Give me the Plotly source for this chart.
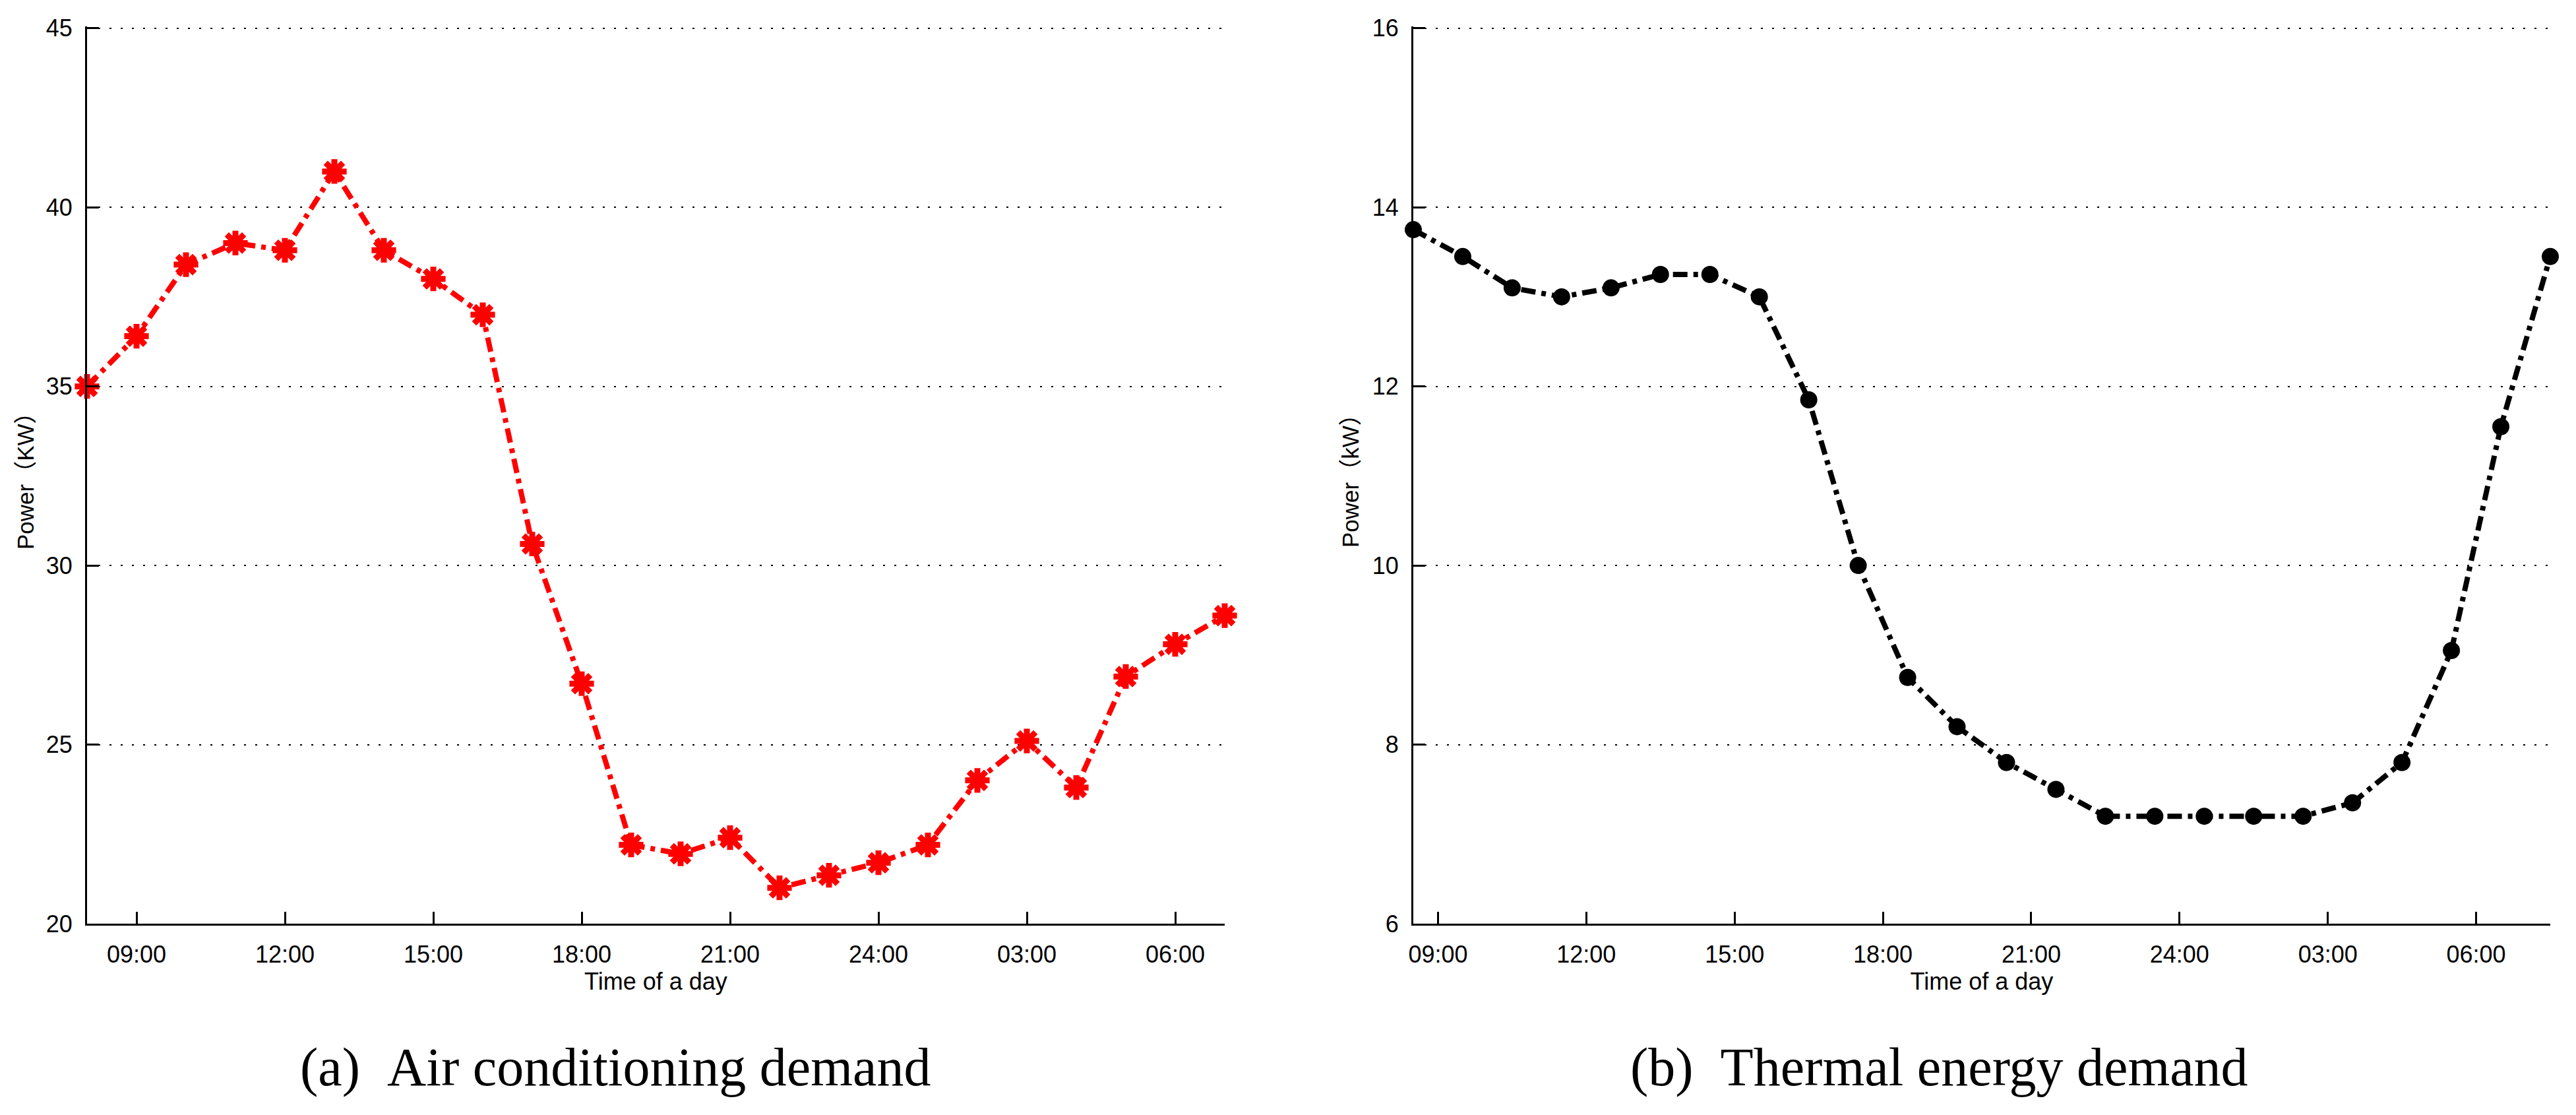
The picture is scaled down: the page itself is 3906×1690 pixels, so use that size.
import plotly.graph_objects as go

# hourly air conditioning load, 08:00 -> 07:00 next day (x in hours, 24 = midnight)
ac_hours = list(range(8, 32))
ac_power = [35.0, 36.4, 38.4, 39.0, 38.8, 41.0, 38.8, 38.0, 37.0, 30.6, 26.7, 22.2,
            21.95, 22.4, 21.0, 21.35, 21.7, 22.2, 24.0, 25.1, 23.8, 26.9, 27.8, 28.6]

# thermal load, sampled on the half hour
th_hours = [h + 0.5 for h in range(8, 32)]
th_power = [13.75, 13.45, 13.1, 13.0, 13.1, 13.25, 13.25, 13.0, 11.85, 10.0, 8.75, 8.2,
            7.8, 7.5, 7.2, 7.2, 7.2, 7.2, 7.2, 7.35, 7.8, 9.05, 11.55, 13.45]

tick_hours = [9, 12, 15, 18, 21, 24, 27, 30]
tick_text = ["09:00", "12:00", "15:00", "18:00", "21:00", "24:00", "03:00", "06:00"]

W, H = 3906, 1690
FONT = "Arial, Liberation Sans, Noto Sans CJK SC, sans-serif"
DASHDOT = "22px,9px,7px,9px"

fig = go.Figure()

fig.add_trace(go.Scatter(
    x=ac_hours, y=ac_power, mode="lines+markers", xaxis="x", yaxis="y",
    line=dict(color="#ff0000", width=8, dash=DASHDOT),
    marker=dict(symbol="asterisk-open", size=31, color="#ff0000",
                line=dict(color="#ff0000", width=9)),
    showlegend=False, cliponaxis=False,
))
fig.add_trace(go.Scatter(
    x=th_hours, y=th_power, mode="lines+markers", xaxis="x2", yaxis="y2",
    line=dict(color="black", width=8, dash=DASHDOT),
    marker=dict(symbol="circle", size=26, color="black"),
    showlegend=False, cliponaxis=False,
))

common_x = dict(
    tickmode="array", tickvals=tick_hours, ticktext=tick_text,
    ticks="inside", ticklen=18, tickwidth=3, tickcolor="black",
    showline=True, linewidth=3, linecolor="black", showgrid=False, zeroline=False,
    tickfont=dict(family=FONT, size=36, color="black"),
    title=dict(text="Time of a day", font=dict(family=FONT, size=36, color="black"), standoff=1),
    ticklabelstandoff=13, automargin=False,
)
common_y = dict(
    ticks="inside", ticklen=18, tickwidth=3, tickcolor="black",
    showline=True, linewidth=3, linecolor="black", zeroline=False,
    showgrid=True, gridcolor="black", gridwidth=2, griddash="3px,14px",
    tickfont=dict(family=FONT, size=36, color="black"),
    ticklabelstandoff=12, automargin=False,
)

y_dom = [1 - 1400 / H, 1 - 40 / H]
fig.update_layout(
    width=W, height=H,
    margin=dict(l=0, r=0, t=0, b=0),
    paper_bgcolor="white", plot_bgcolor="white",
    xaxis=dict(common_x, domain=[132 / W, 1857 / W], range=[8, 31], anchor="y"),
    # top of range nudged so the grid line at the top value is still drawn
    yaxis=dict(common_y, domain=y_dom, range=[20, 45.05], tickvals=[20, 25, 30, 35, 40, 45], anchor="x"),
    xaxis2=dict(common_x, domain=[2143 / W, 3867 / W], range=[8.5, 31.5], anchor="y2"),
    yaxis2=dict(common_y, domain=y_dom, range=[6, 16.02], tickvals=[6, 8, 10, 12, 14, 16], anchor="x2"),
)

# y axis titles and figure captions
for x_px, label in [(39, "Power（KW）"), (2048, "Power（kW）")]:
    fig.add_annotation(x=x_px / W, y=1 - 720 / H, xref="paper", yref="paper",
                       xanchor="center", yanchor="middle",
                       text=label, textangle=-90, showarrow=False,
                       font=dict(family=FONT, size=35, color="black"))

for x_px, caption in [(933, "(a)&nbsp;&nbsp;Air conditioning demand"),
                      (2940, "(b)&nbsp;&nbsp;Thermal energy demand")]:
    fig.add_annotation(x=x_px / W, y=1 - 1617 / H, xref="paper", yref="paper",
                       text=caption, showarrow=False, xanchor="center", yanchor="middle",
                       font=dict(family="Times New Roman, Liberation Serif, serif",
                                 size=82, color="black"))

fig.write_html("out.html", config={"displayModeBar": False},
               post_script="document.body.style.margin='0px';")
